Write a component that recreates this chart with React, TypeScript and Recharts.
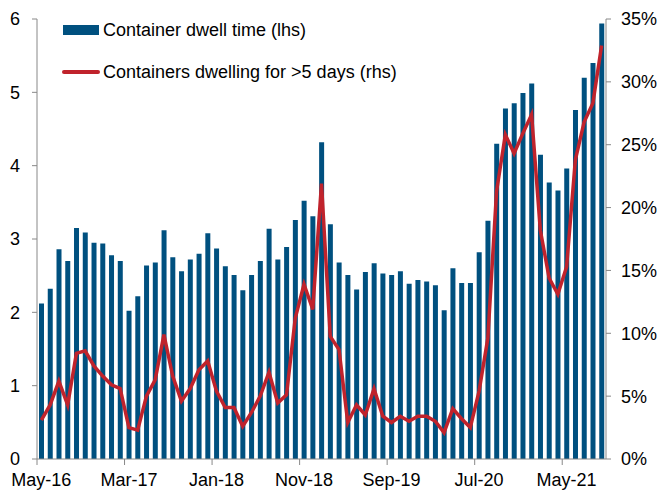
import { ComposedChart, Bar, Line, XAxis, YAxis } from 'recharts'

// monthly, May-16 .. Sep-21
const months = [
  'May-16', 'Jun-16', 'Jul-16', 'Aug-16', 'Sep-16', 'Oct-16', 'Nov-16', 'Dec-16',
  'Jan-17', 'Feb-17', 'Mar-17', 'Apr-17', 'May-17', 'Jun-17', 'Jul-17', 'Aug-17', 'Sep-17', 'Oct-17', 'Nov-17', 'Dec-17',
  'Jan-18', 'Feb-18', 'Mar-18', 'Apr-18', 'May-18', 'Jun-18', 'Jul-18', 'Aug-18', 'Sep-18', 'Oct-18', 'Nov-18', 'Dec-18',
  'Jan-19', 'Feb-19', 'Mar-19', 'Apr-19', 'May-19', 'Jun-19', 'Jul-19', 'Aug-19', 'Sep-19', 'Oct-19', 'Nov-19', 'Dec-19',
  'Jan-20', 'Feb-20', 'Mar-20', 'Apr-20', 'May-20', 'Jun-20', 'Jul-20', 'Aug-20', 'Sep-20', 'Oct-20', 'Nov-20', 'Dec-20',
  'Jan-21', 'Feb-21', 'Mar-21', 'Apr-21', 'May-21', 'Jun-21', 'Jul-21', 'Aug-21', 'Sep-21',
]

// container dwell time, days (lhs)
const dwellTime = [
  2.12, 2.32, 2.86, 2.70, 3.15, 3.09, 2.95, 2.94, 2.78, 2.70,
  2.02, 2.22, 2.64, 2.68, 3.12, 2.75, 2.56, 2.72, 2.80, 3.08,
  2.87, 2.63, 2.51, 2.30, 2.51, 2.70, 3.14, 2.72, 2.89, 3.26,
  3.52, 3.31, 4.32, 3.20, 2.68, 2.51, 2.31, 2.55, 2.67, 2.53,
  2.51, 2.56, 2.39, 2.44, 2.42, 2.37, 2.03, 2.60, 2.40, 2.40,
  2.82, 3.25, 4.30, 4.78, 4.85, 4.99, 5.12, 4.15, 3.77, 3.66,
  3.96, 4.76, 5.20, 5.40, 5.94,
]

// share of containers dwelling > 5 days, % (rhs)
const over5Days = [
  3.1, 4.3, 6.2, 4.3, 8.4, 8.6, 7.4, 6.6, 5.9, 5.6,
  2.5, 2.3, 5.0, 6.3, 9.9, 6.6, 4.6, 5.6, 7.1, 7.8,
  5.4, 4.1, 4.1, 2.6, 3.7, 5.0, 6.9, 4.45, 5.1, 11.2,
  13.9, 11.9, 21.9, 9.75, 8.7, 2.9, 4.3, 3.5, 5.6, 3.4,
  2.9, 3.4, 3.0, 3.4, 3.4, 3.0, 2.1, 4.0, 3.2, 2.5,
  5.4, 9.6, 21.3, 25.8, 24.3, 25.9, 27.4, 18.2, 14.4, 13.1,
  15.3, 23.8, 26.8, 28.3, 32.9,
]

const leftTicks = [0, 1, 2, 3, 4, 5, 6]
const rightTicks = [0, 5, 10, 15, 20, 25, 30, 35]

const data = months.map((m, i) => ({ month: m, dwell: dwellTime[i], over5: over5Days[i] }))

const FONT = '"Liberation Sans", Arial, sans-serif'
const AXIS = '#888888'
const BLUE = '#00507f'
const RED = '#c0232c'
const X_TICK_SIZE = 6
const X_TICK_MARGIN = 8

// Excel-style category axis: label centred on the category, tick mark on its left edge
function XTick(props: any) {
  const { x, y, payload } = props
  const off = payload?.offset ?? 4.37
  const axisY = y - X_TICK_SIZE - X_TICK_MARGIN
  return (
    <g>
      <line x1={x - off} x2={x - off} y1={axisY} y2={axisY + X_TICK_SIZE} stroke={AXIS} />
      <text x={x} y={y} dy="0.71em" textAnchor="middle" fill="#000" fontSize={18} fontFamily={FONT}>
        {payload.value}
      </text>
    </g>
  )
}

export default function App() {
  const tickStyle = { fill: '#000', fontSize: 18, fontFamily: FONT }
  return (
    <div style={{ position: 'absolute', left: 0, top: 0, width: 659, height: 492, background: '#fff', fontFamily: FONT }}>
      <ComposedChart width={659} height={492} data={data} margin={{ top: 19, right: 0, bottom: 0, left: 0 }}>
        <XAxis
          dataKey="month"
          interval={9}
          height={33}
          tickLine={false}
          tickSize={X_TICK_SIZE}
          tickMargin={X_TICK_MARGIN}
          axisLine={{ stroke: AXIS }}
          tick={<XTick />}
        />
        <YAxis
          yAxisId="left"
          width={37}
          domain={[0, 6]}
          ticks={leftTicks}
          interval={0}
          tickSize={5}
          tickMargin={12}
          tickLine={{ stroke: AXIS }}
          axisLine={{ stroke: AXIS }}
          tick={tickStyle}
        />
        <YAxis
          yAxisId="right"
          orientation="right"
          width={53}
          domain={[0, 35]}
          ticks={rightTicks}
          interval={0}
          tickSize={5}
          tickMargin={10}
          tickLine={{ stroke: AXIS }}
          axisLine={{ stroke: AXIS }}
          tick={{ ...tickStyle, textAnchor: 'start' }}
          tickFormatter={(v) => `${v}%`}
        />
        <Bar yAxisId="left" dataKey="dwell" fill={BLUE} barSize={5} isAnimationActive={false} />
        <Line
          yAxisId="right"
          dataKey="over5"
          type="linear"
          stroke={RED}
          strokeWidth={3.5}
          dot={false}
          activeDot={false}
          isAnimationActive={false}
        />
      </ComposedChart>

      {/* legend */}
      <div style={{ position: 'absolute', left: 63, top: 25, width: 36, height: 10, background: BLUE }} />
      <div style={{ position: 'absolute', left: 103, top: 20, fontSize: 18, lineHeight: '20px', color: '#000', whiteSpace: 'nowrap' }}>
        Container dwell time (lhs)
      </div>
      <div style={{ position: 'absolute', left: 62, top: 70, width: 38, height: 4, background: RED, borderRadius: 2 }} />
      <div style={{ position: 'absolute', left: 103, top: 62, fontSize: 18, lineHeight: '20px', color: '#000', whiteSpace: 'nowrap' }}>
        Containers dwelling for &gt;5 days (rhs)
      </div>
    </div>
  )
}
